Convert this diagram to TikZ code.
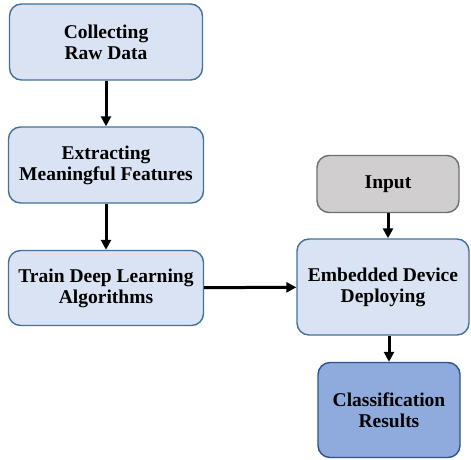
\documentclass[tikz,border=0pt]{standalone}
\usepackage{fontspec}
\setmainfont{Liberation Serif}
\usepackage{tikz}
\usetikzlibrary{arrows.meta}
\definecolor{boxfill}{HTML}{DAE3F3}
\definecolor{boxline}{HTML}{41719C}
\definecolor{inputfill}{HTML}{D0CECE}
\definecolor{inputline}{HTML}{6F6F6F}
\definecolor{resfill}{HTML}{8FAADC}
\definecolor{resline}{HTML}{2F528F}
\tikzset{
    stage/.style={draw=boxline, fill=boxfill, line width=1.4pt, rounded corners=12pt,
        align=center, font=\bfseries\fontsize{19.5}{21}\selectfont, inner sep=0pt},
    flow/.style={-{Triangle[length=10pt,width=10pt]}, line width=3pt}
}
\begin{document}
\begin{tikzpicture}[x=1pt, y=-1pt]
                    \useasboundingbox (0,0) rectangle (471,460);
                    \node[stage, minimum width=193pt, minimum height=76pt] (collect) at (106, 42)  {Collecting\\Raw Data};
                    \node[stage, minimum width=195pt, minimum height=76pt] (extract) at (106,165)  {Extracting\\Meaningful Features};
                    \node[stage, minimum width=195pt, minimum height=75pt] (train)   at (106,288)  {Train Deep Learning\\Algorithms};
                    \node[stage, minimum width=142pt, minimum height=57pt, fill=inputfill, draw=inputline] (input) at (388,184) {Input};
                    \node[stage, minimum width=172pt, minimum height=96pt] (deploy)  at (383,287)  {Embedded Device\\Deploying};
                    \node[stage, minimum width=142pt, minimum height=95pt, fill=resfill, draw=resline] (result) at (389,410) {Classification\\Results};

                    \draw[flow] (collect) -- (extract);
                    \draw[flow] (extract) -- (train);
                    \draw[flow] (train) -- (deploy);
                    \draw[flow] (input) -- (input |- deploy.north);
                    \draw[flow] (result |- deploy.south) -- (result);
\end{tikzpicture}
\end{document}
